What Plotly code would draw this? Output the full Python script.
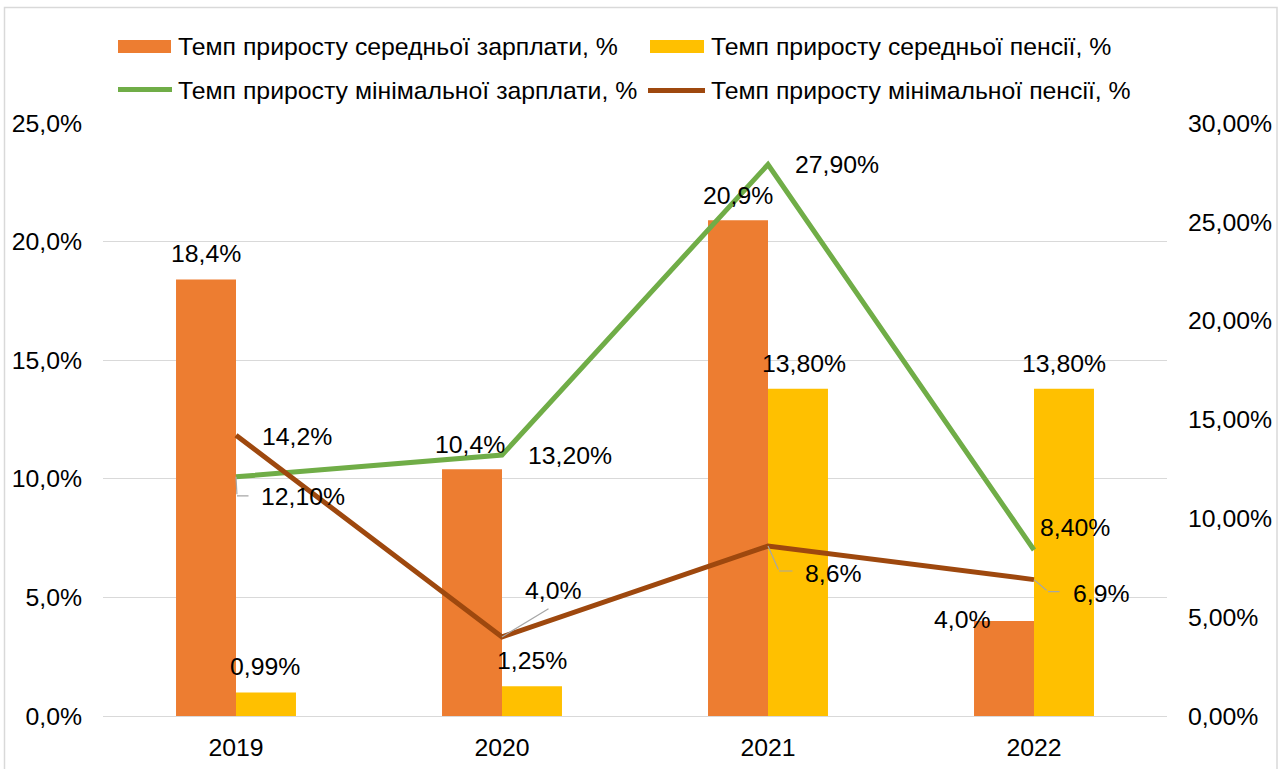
import plotly.graph_objects as go

# ---------------- data ----------------
years = ["2019", "2020", "2021", "2022"]
avg_wage = [18.4, 10.4, 20.9, 4.0]          # Темп приросту середньої зарплати, %
avg_pension = [0.99, 1.25, 13.80, 13.80]    # Темп приросту середньої пенсії, %
min_wage = [12.10, 13.20, 27.90, 8.40]      # Темп приросту мінімальної зарплати, %
min_pension = [14.2, 4.0, 8.6, 6.9]         # Темп приросту мінімальної пенсії, %

names = [
    "Темп приросту середньої зарплати, %",
    "Темп приросту середньої пенсії, %",
    "Темп приросту мінімальної зарплати, %",
    "Темп приросту мінімальної пенсії, %",
]
left_ticks = [0, 5, 10, 15, 20, 25]
right_ticks = [0, 5, 10, 15, 20, 25, 30]

# ---------------- style ----------------
ORANGE = "#ED7D31"
YELLOW = "#FFC000"
GREEN = "#70AD47"
BROWN = "#9E480E"
GRID = "#D9D9D9"
LEADER = "#A6A6A6"
FONT = "Liberation Sans, Arial, sans-serif"
FS = 24.8
LEG_FS = 24.8

W, H = 1282, 769
ML, MR, MT, MB = 103, 115, 123, 53
PW, PH = W - ML - MR, H - MT - MB


def px(x):
    return (x - ML) / PW


def py(y):
    return (H - MB - y) / PH


def fmt(v, d):
    return f"{v:.{d}f}".replace(".", ",") + "%"


fig = go.Figure()
fig.add_trace(go.Bar(x=years, y=avg_wage, name=names[0], marker_color=ORANGE,
                     marker_line_width=0, showlegend=False))
fig.add_trace(go.Bar(x=years, y=avg_pension, name=names[1], marker_color=YELLOW,
                     marker_line_width=0, showlegend=False))
fig.add_trace(go.Scatter(x=years, y=min_wage, name=names[2], mode="lines",
                         line=dict(color=GREEN, width=5), yaxis="y2", showlegend=False))
fig.add_trace(go.Scatter(x=years, y=min_pension, name=names[3], mode="lines",
                         line=dict(color=BROWN, width=5), yaxis="y2", showlegend=False))

ann = []
lab_font = dict(family=FONT, size=FS, color="#000000")

# bar labels: (xshift, yshift) in pixels relative to bar top at category centre
wage_off = [(-30, 26), (-32, 25), (-30, 25), (-72, 2)]
pens_off = [(29, 26), (30, 26), (36, 25), (30, 25)]
for i in range(len(years)):
    ann.append(dict(x=i, y=avg_wage[i], xref="x", yref="y", text=fmt(avg_wage[i], 1),
                    showarrow=False, xanchor="center", yanchor="middle",
                    xshift=wage_off[i][0], yshift=wage_off[i][1], font=lab_font))
    ann.append(dict(x=i, y=avg_pension[i], xref="x", yref="y", text=fmt(avg_pension[i], 2),
                    showarrow=False, xanchor="center", yanchor="middle",
                    xshift=pens_off[i][0], yshift=pens_off[i][1], font=lab_font))

# line labels: (xshift of left edge, shift downwards of centre) in px from the point
mw_pos = [(23, 20), (24, 0), (25, 0), (4, -22)]
mp_pos = [(24, 1), (21, -46), (35, 27), (37, 14)]
# leader polylines (px offsets from the point, downwards positive); None = no leader
mw_lead = [[(0, 0), (1, 19), (14, 19)], None, None, None]
mp_lead = [None, [(0, 0), (48, -29)], [(0, 0), (11, 25), (26, 25)],
           [(0, 0), (14, 12), (27, 12)]]

for series, dec, pos, leads in ((min_wage, 2, mw_pos, mw_lead),
                                (min_pension, 1, mp_pos, mp_lead)):
    for i in range(len(years)):
        dx, dy = pos[i]
        ann.append(dict(x=i, y=series[i], xref="x", yref="y2", text=fmt(series[i], dec),
                        showarrow=False, xanchor="left", yanchor="middle",
                        xshift=dx, yshift=-dy, font=lab_font))
        if leads[i]:
            pts = leads[i]
            for (x0, y0), (x1, y1) in zip(pts[:-1], pts[1:]):
                ann.append(dict(x=i, y=series[i], xref="x", yref="y2", text="",
                                showarrow=True, arrowhead=0, arrowwidth=1.2,
                                arrowcolor=LEADER, standoff=0, startstandoff=0,
                                xshift=x0, yshift=-y0, ax=x1 - x0, ay=y1 - y0,
                                font=dict(size=1)))

# custom legend text
leg_font = dict(family=FONT, size=LEG_FS, color="#000000")
leg_text = [(176, 46.5, names[0]), (709, 46.5, names[1]), (176, 90.5, names[2]), (709, 90.5, names[3])]
for x, y, t in leg_text:
    ann.append(dict(x=px(x), y=py(y), xref="paper", yref="paper", text=t, showarrow=False,
                    xanchor="left", yanchor="middle", font=leg_font))

shapes = [
    # outer border
    dict(type="rect", xref="paper", yref="paper", x0=px(4.5), x1=px(1277), y0=py(775), y1=py(7.5),
         line=dict(color=GRID, width=1.5), fillcolor="rgba(0,0,0,0)", layer="below"),
    # legend swatches
    dict(type="rect", xref="paper", yref="paper", x0=px(118), x1=px(171), y0=py(53), y1=py(40),
         line=dict(width=0), fillcolor=ORANGE),
    dict(type="rect", xref="paper", yref="paper", x0=px(650), x1=px(704), y0=py(53), y1=py(40),
         line=dict(width=0), fillcolor=YELLOW),
    dict(type="line", xref="paper", yref="paper", x0=px(118), x1=px(172), y0=py(89.5), y1=py(89.5),
         line=dict(color=GREEN, width=5)),
    dict(type="line", xref="paper", yref="paper", x0=px(648), x1=px(705), y0=py(90.5), y1=py(90.5),
         line=dict(color=BROWN, width=5)),
]

fig.update_layout(
    width=W, height=H,
    margin=dict(l=ML, r=MR, t=MT, b=MB, pad=0, autoexpand=False),
    paper_bgcolor="white", plot_bgcolor="white",
    font=dict(family=FONT, size=FS, color="#000000"),
    barmode="group", bargap=0.549, bargroupgap=0,
    showlegend=False,
    xaxis=dict(type="category", categoryorder="array", categoryarray=years,
               range=[-0.5, len(years) - 0.5], automargin=False,
               showline=True, linecolor=GRID, linewidth=1, ticks="",
               showgrid=False, ticklabelstandoff=9, tickfont=dict(size=FS)),
    yaxis=dict(range=[0, 25], tickvals=left_ticks, automargin=False,
               ticktext=[fmt(v, 1) for v in left_ticks],
               showgrid=True, gridcolor=GRID, gridwidth=1, zeroline=False, showline=False,
               ticks="", ticklabelstandoff=20, tickfont=dict(size=FS)),
    yaxis2=dict(range=[0, 30], tickvals=right_ticks, automargin=False,
                ticktext=[fmt(v, 2) for v in right_ticks],
                overlaying="y", side="right", showgrid=False, zeroline=False, showline=False,
                ticks="", ticklabelstandoff=20, tickfont=dict(size=FS)),
    annotations=ann,
    shapes=shapes,
)

fig.write_html("out.html", config={"displayModeBar": False},
               post_script="document.body.style.margin='0';")
